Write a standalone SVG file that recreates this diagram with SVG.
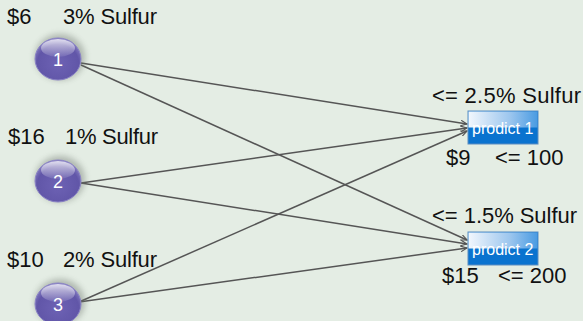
<svg xmlns="http://www.w3.org/2000/svg" width="583" height="321" viewBox="0 0 583 321">
  <defs>
    <radialGradient id="ballFill" cx="0.5" cy="0.6" r="0.6">
      <stop offset="0" stop-color="#6D62B4"/>
      <stop offset="0.75" stop-color="#6156A8"/>
      <stop offset="1" stop-color="#8A82C4"/>
    </radialGradient>
    <linearGradient id="gloss" x1="0" y1="0" x2="0" y2="1">
      <stop offset="0" stop-color="#FFFFFF" stop-opacity="0.75"/>
      <stop offset="1" stop-color="#FFFFFF" stop-opacity="0.08"/>
    </linearGradient>
    <linearGradient id="boxTop" x1="0" y1="0" x2="1" y2="0">
      <stop offset="0" stop-color="#F2F7FD"/>
      <stop offset="0.6" stop-color="#9CC6EE"/>
      <stop offset="1" stop-color="#4A9BE2"/>
    </linearGradient>
    <filter id="soft" x="-50%" y="-50%" width="200%" height="200%">
      <feGaussianBlur stdDeviation="3"/>
    </filter>
    <marker id="arrow" viewBox="0 0 10 10" refX="9" refY="5" markerWidth="7" markerHeight="7" orient="auto" markerUnits="userSpaceOnUse">
      <path d="M0,1 L9,5 L0,9" fill="none" stroke="#555" stroke-width="1.6"/>
    </marker>
  </defs>
  <style>
    .lbl { font-family: "Liberation Sans", Arial, sans-serif; font-size: 22px; fill: #111; }
    .num { font-family: "Liberation Sans", Arial, sans-serif; font-size: 18px; fill: #FFFFFF; text-anchor: middle; }
    .box-txt { font-family: "Liberation Sans", Arial, sans-serif; font-size: 16px; fill: #FFFFFF; }
    .edge { stroke: #555555; stroke-width: 1.5; fill: none; marker-end: url(#arrow); }
    .shadow { fill: #6E766E; opacity: 0.45; filter: url(#soft); }
    .ball { fill: url(#ballFill); stroke: #8B84C6; stroke-width: 1; }
    .shine { fill: url(#gloss); }
    .box-frame { fill: #0A73CF; stroke: #5A8DC0; stroke-width: 1; }
  </style>

  <rect width="583" height="321" fill="#E4EDE4"/>

  <!-- connectors -->
  <g id="connectors">
    <line class="edge" x1="81" y1="63" x2="467" y2="124"/>
    <line class="edge" x1="81" y1="65" x2="467" y2="240"/>
    <line class="edge" x1="81" y1="183" x2="467" y2="128"/>
    <line class="edge" x1="81" y1="183" x2="467" y2="244"/>
    <line class="edge" x1="79" y1="302" x2="467" y2="131"/>
    <line class="edge" x1="79" y1="302" x2="467" y2="248"/>
  </g>

  <!-- source 1 -->
  <g id="node1">
    <text class="lbl" x="7" y="24">$6</text>
    <text class="lbl" x="63" y="24" textLength="94">3% Sulfur</text>
    <ellipse class="shadow" cx="60" cy="57" rx="25" ry="23"/>
    <ellipse class="ball" cx="58" cy="59" rx="23" ry="21"/>
    <ellipse class="shine" cx="58" cy="48" rx="17" ry="9"/>
    <text class="num" x="58" y="66">1</text>
  </g>

  <!-- source 2 -->
  <g id="node2">
    <text class="lbl" x="8" y="144">$16</text>
    <text class="lbl" x="65" y="144" textLength="93">1% Sulfur</text>
    <ellipse class="shadow" cx="60" cy="179" rx="25" ry="23"/>
    <ellipse class="ball" cx="58" cy="181" rx="23" ry="21"/>
    <ellipse class="shine" cx="58" cy="170" rx="17" ry="9"/>
    <text class="num" x="58" y="188">2</text>
  </g>

  <!-- source 3 -->
  <g id="node3">
    <text class="lbl" x="7" y="267">$10</text>
    <text class="lbl" x="63" y="267" textLength="94">2% Sulfur</text>
    <ellipse class="shadow" cx="60" cy="302" rx="25" ry="23"/>
    <ellipse class="ball" cx="58" cy="304" rx="23" ry="21"/>
    <ellipse class="shine" cx="58" cy="293" rx="17" ry="9"/>
    <text class="num" x="58" y="311">3</text>
  </g>

  <!-- product 1 -->
  <g id="product1">
    <text class="lbl" x="432" y="103" textLength="149">&lt;= 2.5% Sulfur</text>
    <rect class="box-frame" x="468" y="111" width="70" height="33"/>
    <rect x="468.5" y="111.5" width="69" height="16" fill="url(#boxTop)"/>
    <text class="box-txt" x="472" y="134">prodict 1</text>
    <text class="lbl" x="446" y="165">$9</text>
    <text class="lbl" x="495" y="165">&lt;= 100</text>
  </g>

  <!-- product 2 -->
  <g id="product2">
    <text class="lbl" x="432" y="223" textLength="145">&lt;= 1.5% Sulfur</text>
    <rect class="box-frame" x="468" y="232" width="70" height="33"/>
    <rect x="468.5" y="232.5" width="69" height="16" fill="url(#boxTop)"/>
    <text class="box-txt" x="472" y="255">prodict 2</text>
    <text class="lbl" x="442" y="283">$15</text>
    <text class="lbl" x="498" y="283">&lt;= 200</text>
  </g>
</svg>
